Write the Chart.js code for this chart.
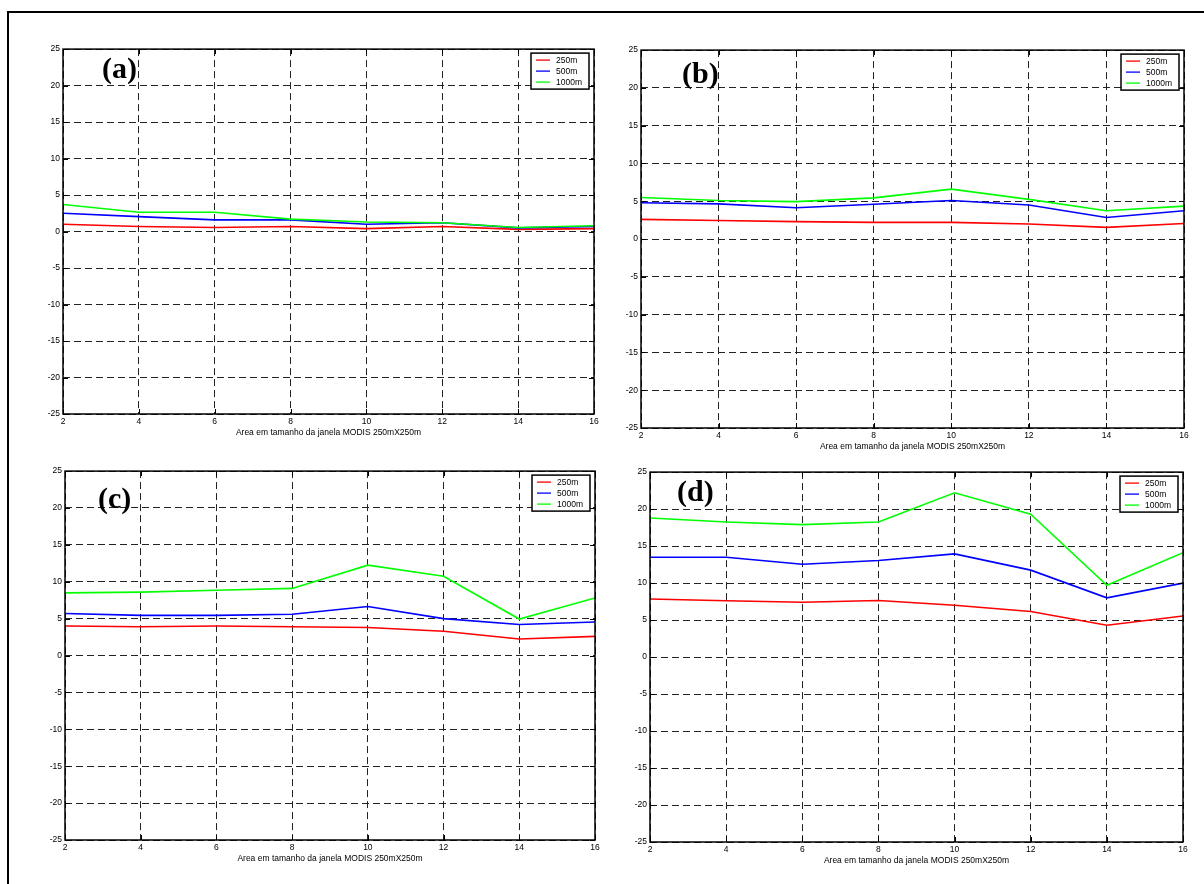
<!DOCTYPE html>
<html>
<head>
<meta charset="utf-8">
<script src="https://cdn.jsdelivr.net/npm/chart.js@4.4.1/dist/chart.umd.min.js"></script>
<style>
  html, body { margin: 0; padding: 0; background: #fff; width: 1204px; height: 884px; overflow: hidden; }
  .frame { position: absolute; left: 7px; top: 11px; width: 1300px; height: 1000px; border-left: 2px solid #000; border-top: 2px solid #000; }
  canvas { position: absolute; }
</style>
</head>
<body>
<div class="frame"></div>
<canvas id="chartA"></canvas>
<canvas id="chartB"></canvas>
<canvas id="chartC"></canvas>
<canvas id="chartD"></canvas>
<script>
// x: window size, y: error values
const xValues = [2, 4, 6, 8, 10, 12, 14, 16];
const xTicks = [2, 4, 6, 8, 10, 12, 14, 16];
const yTicks = [-25, -20, -15, -10, -5, 0, 5, 10, 15, 20, 25];
const seriesNames = ['250m', '500m', '1000m'];
const xTitle = 'Area em tamanho da janela MODIS 250mX250m';

const a250  = [1.0, 0.7, 0.55, 0.7, 0.4, 0.7, 0.3, 0.4];
const a500  = [2.5, 2.05, 1.6, 1.6, 1.0, 1.2, 0.5, 0.7];
const a1000 = [3.7, 2.65, 2.65, 1.7, 1.3, 1.2, 0.55, 0.8];

const b250  = [2.6, 2.45, 2.3, 2.2, 2.2, 2.0, 1.55, 2.05];
const b500  = [4.8, 4.65, 4.15, 4.6, 5.1, 4.5, 2.85, 3.75];
const b1000 = [5.5, 5.1, 4.95, 5.45, 6.6, 5.25, 3.75, 4.35];

const c250  = [4.0, 3.9, 4.0, 3.9, 3.8, 3.3, 2.25, 2.6];
const c500  = [5.7, 5.45, 5.45, 5.6, 6.65, 5.0, 4.2, 4.55];
const c1000 = [8.5, 8.6, 8.85, 9.1, 12.25, 10.75, 4.95, 7.8];

const d250  = [7.85, 7.6, 7.4, 7.65, 7.0, 6.15, 4.3, 5.55];
const d500  = [13.5, 13.5, 12.55, 13.05, 13.95, 11.75, 8.0, 10.0];
const d1000 = [18.8, 18.25, 17.9, 18.25, 22.2, 19.3, 9.7, 14.1];

const COLORS = ['#ff0000', '#0000ff', '#00ff00'];
const FONT = '"Liberation Sans", Arial, Helvetica, sans-serif';

// plot area of each panel in page pixels, and where its (x) tag sits
const PANELS = [
  { id: 'chartA', tag: '(a)', series: [a250, a500, a1000], box: { left: 63, top: 49, right: 594, bottom: 414 }, tagX: 39, tagY: 29 },
  { id: 'chartB', tag: '(b)', series: [b250, b500, b1000], box: { left: 641, top: 50, right: 1184, bottom: 428 }, tagX: 41, tagY: 33 },
  { id: 'chartC', tag: '(c)', series: [c250, c500, c1000], box: { left: 65, top: 471, right: 595, bottom: 840 }, tagX: 33, tagY: 37 },
  { id: 'chartD', tag: '(d)', series: [d250, d500, d1000], box: { left: 650, top: 472, right: 1183, bottom: 842 }, tagX: 27, tagY: 29 },
];

const PAD_TOP = 8, PAD_RIGHT = 10, Y_W = 40, X_H = 30;

const panelDecor = {
  id: 'panelDecor',
  afterDraw(chart, args, opts) {
    const { ctx, chartArea: ca, scales } = chart;
    ctx.save();
    ctx.strokeStyle = '#000';
    ctx.lineWidth = 1.5;
    ctx.strokeRect(ca.left, ca.top, ca.right - ca.left, ca.bottom - ca.top);

    // small inward ticks on all four sides, like matlab
    ctx.lineWidth = 1;
    ctx.beginPath();
    scales.x.ticks.forEach(t => {
      const px = Math.round(scales.x.getPixelForValue(t.value)) + 0.5;
      ctx.moveTo(px, ca.bottom); ctx.lineTo(px, ca.bottom - 5);
      ctx.moveTo(px, ca.top); ctx.lineTo(px, ca.top + 5);
    });
    scales.y.ticks.forEach(t => {
      const py = Math.round(scales.y.getPixelForValue(t.value)) + 0.5;
      ctx.moveTo(ca.left, py); ctx.lineTo(ca.left + 5, py);
      ctx.moveTo(ca.right, py); ctx.lineTo(ca.right - 5, py);
    });
    ctx.stroke();

    ctx.fillStyle = '#000';
    ctx.font = 'bold 30px "Liberation Serif", "Times New Roman", serif';
    ctx.textBaseline = 'alphabetic';
    ctx.textAlign = 'left';
    ctx.fillText(opts.tag, ca.left + opts.tagX, ca.top + opts.tagY);

    // legend box
    const w = 58, h = 36;
    const bx = ca.right - 5 - w, by = ca.top + 4;
    ctx.fillStyle = '#fff';
    ctx.fillRect(bx, by, w, h);
    ctx.lineWidth = 1.5;
    ctx.strokeStyle = '#000';
    ctx.strokeRect(bx, by, w, h);
    ctx.font = '8.5px ' + FONT;
    ctx.textBaseline = 'middle';
    chart.data.datasets.forEach((ds, i) => {
      const cy = by + 7 + i * 11;
      ctx.strokeStyle = ds.borderColor;
      ctx.lineWidth = 1.3;
      ctx.beginPath();
      ctx.moveTo(bx + 5, cy);
      ctx.lineTo(bx + 19, cy);
      ctx.stroke();
      ctx.fillStyle = '#000';
      ctx.fillText(ds.label, bx + 25, cy + 0.5);
    });
    ctx.restore();
  }
};

function makeChart(p) {
  const cv = document.getElementById(p.id);
  const b = p.box;
  cv.width = b.right - b.left + Y_W + PAD_RIGHT;
  cv.height = b.bottom - b.top + PAD_TOP + X_H;
  cv.style.left = (b.left - Y_W) + 'px';
  cv.style.top = (b.top - PAD_TOP) + 'px';

  const datasets = p.series.map((vals, i) => ({
    label: seriesNames[i],
    data: xValues.map((x, j) => ({ x, y: vals[j] })),
    borderColor: COLORS[i],
    backgroundColor: COLORS[i],
    borderWidth: 1.6,
    pointRadius: 0,
    tension: 0,
    order: 2 - i,
  }));

  return new Chart(cv, {
    type: 'line',
    data: { datasets },
    options: {
      responsive: false,
      animation: false,
      layout: { padding: { left: 0, top: PAD_TOP, right: PAD_RIGHT, bottom: 0 } },
      plugins: {
        legend: { display: false },
        tooltip: { enabled: false },
        panelDecor: { tag: p.tag, tagX: p.tagX, tagY: p.tagY },
      },
      scales: {
        x: {
          type: 'linear', min: 2, max: 16,
          afterBuildTicks: (s) => { s.ticks = xTicks.map(v => ({ value: v })); },
          afterFit: (s) => { s.height = X_H; },
          grid: { color: '#222', lineWidth: 1, drawTicks: false },
          border: { display: false, dash: [7, 4] },
          ticks: { color: '#000', padding: 3, maxRotation: 0, autoSkip: false, font: { family: FONT, size: 8.5 } },
          title: { display: true, text: xTitle, color: '#000', padding: { top: 0, bottom: 6 }, font: { family: FONT, size: 8.5 } },
        },
        y: {
          type: 'linear', min: -25, max: 25,
          afterBuildTicks: (s) => { s.ticks = yTicks.map(v => ({ value: v })); },
          afterFit: (s) => { s.width = Y_W; },
          grid: { color: '#222', lineWidth: 1, drawTicks: false },
          border: { display: false, dash: [7, 4] },
          ticks: { color: '#000', padding: 3, autoSkip: false, font: { family: FONT, size: 8.5 } },
        },
      },
    },
    plugins: [panelDecor],
  });
}

PANELS.forEach(makeChart);
</script>
</body>
</html>
